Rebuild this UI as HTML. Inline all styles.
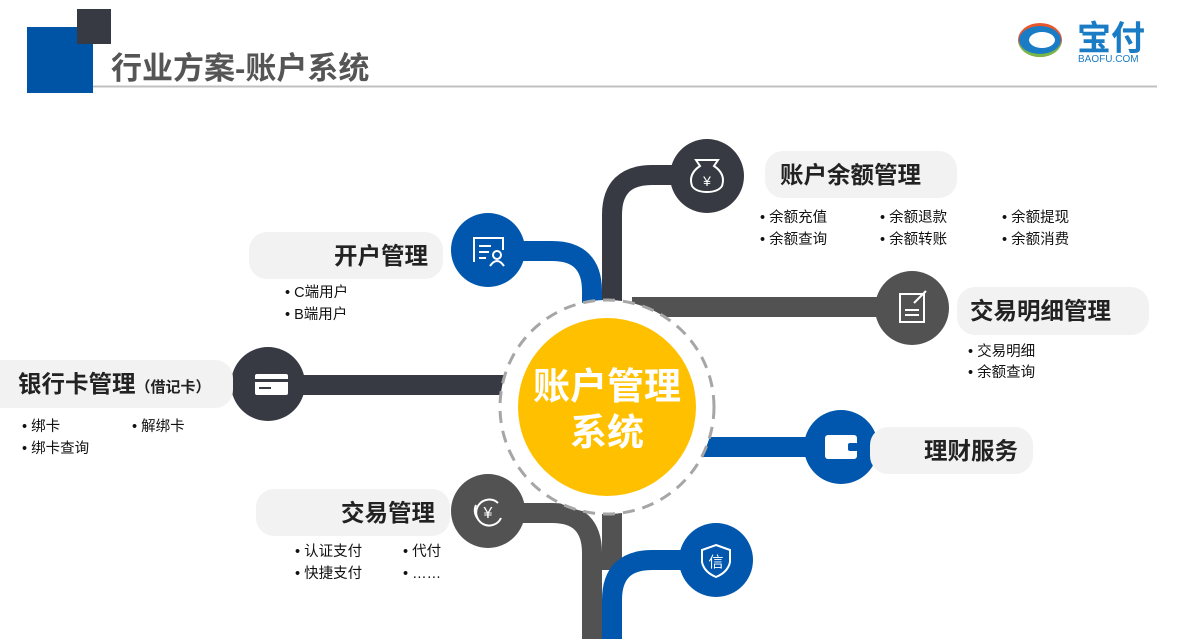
<!DOCTYPE html>
<html><head><meta charset="utf-8"><style>
body{margin:0;background:#fff;}
svg{display:block;}
text{font-family:"Liberation Sans","Noto Sans CJK SC",sans-serif;}
.t{font-size:23.5px;font-weight:bold;fill:#222;}
.b{font-size:14.5px;fill:#111;}
</style></head><body>
<svg width="1185" height="639" viewBox="0 0 1185 639" xmlns="http://www.w3.org/2000/svg">
<rect x="27" y="27" width="66" height="66" fill="#0054a6"/>
<rect x="77" y="9" width="34" height="35" fill="#373a43"/>
<text x="111" y="79" font-size="31" font-weight="bold" fill="#555">行业方案-账户系统</text>
<line x1="93" y1="86.5" x2="1157" y2="86.5" stroke="#c0c0c0" stroke-width="2"/>
<ellipse cx="1040" cy="40" rx="22" ry="17" fill="#e8562a"/>
<ellipse cx="1040" cy="42" rx="21" ry="15" fill="#7ab648"/>
<ellipse cx="1040" cy="40" rx="21" ry="14" fill="#1a7cc5"/>
<ellipse cx="1042" cy="40" rx="13" ry="8" fill="#fff"/>
<text x="1077" y="50" font-size="34" font-weight="bold" fill="#1a7cc5">宝付</text>
<text x="1078" y="62" font-size="10" fill="#1a7cc5">BAOFU.COM</text>

<g fill="none" stroke-width="20">
<path d="M707 175 H652 Q612 175 612 215 V305" stroke="#373a43"/>
<path d="M488 251 H552 Q592 251 592 291 V310" stroke="#0057ad"/>
<path d="M632 307 H912" stroke="#525252"/>
<path d="M268 385 H505" stroke="#373a43"/>
<path d="M700 447 H841" stroke="#0057ad"/>
<path d="M612 500 V570" stroke="#525252"/>
<path d="M488 513 H552 Q592 513 592 553 V639" stroke="#525252"/>
<path d="M716 560 H652 Q612 560 612 600 V639" stroke="#0057ad"/>
</g>

<circle cx="607" cy="407" r="107" fill="#fff" stroke="#a6a6a6" stroke-width="3" stroke-dasharray="12 8"/>
<circle cx="607" cy="407" r="89" fill="#ffc000"/>
<text x="607" y="399" font-size="37" font-weight="bold" fill="#fff" text-anchor="middle">账户管理</text>
<text x="607" y="445" font-size="37" font-weight="bold" fill="#fff" text-anchor="middle">系统</text>

<circle cx="707" cy="176" r="37" fill="#373a43"/>
<circle cx="488" cy="250" r="37" fill="#0057ad"/>
<circle cx="912" cy="308" r="37" fill="#525252"/>
<circle cx="268" cy="384" r="37" fill="#373a43"/>
<circle cx="841" cy="447" r="37" fill="#0057ad"/>
<circle cx="488" cy="511" r="37" fill="#525252"/>
<circle cx="716" cy="560" r="37" fill="#0057ad"/>

<g stroke="#fff" stroke-width="2" fill="none">
<path d="M700 166 L696 160 H718 L714 166 Q726 174 722 186 Q718 192 707 192 Q696 192 692 186 Q688 174 700 166Z"/>
<text x="707" y="186" font-size="14" fill="#fff" stroke="none" text-anchor="middle">¥</text>
<path d="M474 262 V238 H503 V250"/><path d="M479 246 H491 M479 252 H489 M479 258 H486"/>
<circle cx="497" cy="255" r="4"/><path d="M490 266 Q497 256 504 266"/>
<rect x="900" y="294" width="24" height="28"/><path d="M905 310 H919 M905 315 H919 M914 303 L926 291"/>
<path d="M498 503 A13 13 0 1 0 501 518"/><path d="M478 519 A13 13 0 0 1 476 505" />
<text x="488" y="518" font-size="16" fill="#fff" stroke="none" text-anchor="middle">¥</text>
<path d="M716 545 L730 550 V562 Q728 572 716 577 Q704 572 702 562 V550Z"/>
</g>
<rect x="255" y="374" width="33" height="21" rx="2" fill="#fff"/>
<rect x="255" y="379" width="33" height="3" fill="#373a43"/>
<rect x="259" y="387" width="12" height="2" fill="#373a43"/>
<rect x="825" y="435" width="32" height="24" rx="3" fill="#fff"/>
<rect x="848" y="443" width="10" height="8" rx="2" fill="#0057ad"/>
<text x="716" y="567" font-size="15" fill="#fff" text-anchor="middle">信</text>

<rect x="765" y="151" width="192" height="47" rx="18" fill="#f2f2f2"/>
<text x="780" y="183" class="t">账户余额管理</text>
<rect x="249" y="232" width="194" height="47" rx="18" fill="#f2f2f2"/>
<text x="428" y="264" class="t" text-anchor="end" fill="#000">开户管理</text>
<rect x="957" y="287" width="192" height="48" rx="18" fill="#f2f2f2"/>
<text x="970" y="319" class="t">交易明细管理</text>
<rect x="-20" y="360" width="253" height="48" rx="18" fill="#f2f2f2"/>
<text x="18" y="392" class="t" fill="#333">银行卡管理<tspan font-size="15">（借记卡）</tspan></text>
<rect x="870" y="427" width="163" height="47" rx="18" fill="#f2f2f2"/>
<text x="1018" y="459" class="t" text-anchor="end" fill="#000">理财服务</text>
<rect x="256" y="489" width="194" height="47" rx="18" fill="#f2f2f2"/>
<text x="435" y="521" class="t" text-anchor="end" fill="#333">交易管理</text>

<text class="b" x="760" y="222">• 余额充值</text>
<text class="b" x="880" y="222">• 余额退款</text>
<text class="b" x="1002" y="222">• 余额提现</text>
<text class="b" x="760" y="244">• 余额查询</text>
<text class="b" x="880" y="244">• 余额转账</text>
<text class="b" x="1002" y="244">• 余额消费</text>
<text class="b" x="285" y="297">• C端用户</text>
<text class="b" x="285" y="319">• B端用户</text>
<text class="b" x="968" y="356">• 交易明细</text>
<text class="b" x="968" y="377">• 余额查询</text>
<text class="b" x="22" y="431">• 绑卡</text>
<text class="b" x="132" y="431">• 解绑卡</text>
<text class="b" x="22" y="453">• 绑卡查询</text>
<text class="b" x="295" y="556">• 认证支付</text>
<text class="b" x="403" y="556">• 代付</text>
<text class="b" x="295" y="578">• 快捷支付</text>
<text class="b" x="403" y="578">• ……</text>
</svg>
</body></html>
